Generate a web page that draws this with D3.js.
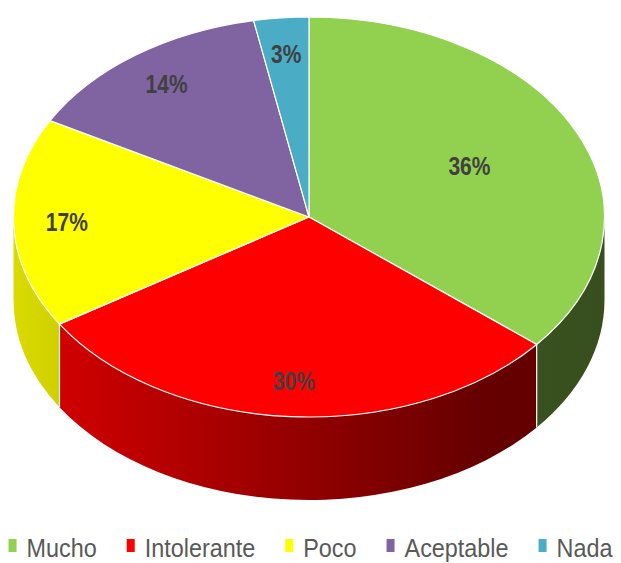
<!DOCTYPE html>
<html>
<head>
<meta charset="utf-8">
<script src="https://cdn.jsdelivr.net/npm/d3@7"></script>
<style>
  html, body { margin: 0; padding: 0; background: #ffffff; }
  svg { display: block; }
</style>
</head>
<body>
<svg id="chart" width="621" height="563"></svg>
<script>
// ---- data ----
const categories = ["Mucho", "Intolerante", "Poco", "Aceptable", "Nada"];
const values = [36, 30, 17, 14, 3];
const labels = ["36%", "30%", "17%", "14%", "3%"];
const colors = ["#92d050", "#ff0000", "#ffff00", "#8064a2", "#4bacc6"];

// ---- geometry ----
const W = 621, H = 563;
const cx = 309, cy = 217, rx = 295.5, ry = 200, depth = 83;

const svg = d3.select("#chart");
const defs = svg.append("defs");

const pie = d3.pie().sort(null).value(d => d)(values);

const pt = (a, dy = 0) => [cx + rx * Math.sin(a), cy - ry * Math.cos(a) + dy];

// shading factor across the side (left bright -> right dark)
const shade = d3.scaleLinear()
  .domain([cx - rx, 480, cx + rx])
  .range([0.86, 0.40, 0.38])
  .clamp(true);

pie.forEach((d, i) => {
  const base = d3.rgb(colors[i]);
  const g = defs.append("linearGradient")
    .attr("id", "side" + i)
    .attr("gradientUnits", "userSpaceOnUse")
    .attr("x1", cx - rx).attr("x2", cx + rx)
    .attr("y1", 0).attr("y2", 0);
  const xs = [cx - rx, 480, cx + rx];
  xs.forEach(x => {
    const f = shade(x);
    g.append("stop")
      .attr("offset", (x - (cx - rx)) / (2 * rx))
      .attr("stop-color", d3.rgb(base.r * f, base.g * f, base.b * f).formatHex());
  });
});

// ---- sides (front visible half: angles between PI/2 and 3PI/2) ----
const sideG = svg.append("g");
const lo = Math.PI / 2, hi = 3 * Math.PI / 2;
pie.forEach((d, i) => {
  const b0 = Math.max(d.startAngle, lo), b1 = Math.min(d.endAngle, hi);
  if (b1 <= b0) return;
  const p0 = pt(b0), p1 = pt(b1), q1 = pt(b1, depth), q0 = pt(b0, depth);
  const path = `M${p0}A${rx},${ry} 0 0 1 ${p1}L${q1}A${rx},${ry} 0 0 0 ${q0}Z`;
  sideG.append("path")
    .attr("d", path)
    .attr("fill", `url(#side${i})`);
});
// white edges at the slice boundaries on the side
pie.forEach(d => {
  const a = d.startAngle;
  if (a > lo && a < hi) {
    const p = pt(a), q = pt(a, depth);
    sideG.append("line")
      .attr("x1", p[0]).attr("y1", p[1])
      .attr("x2", q[0]).attr("y2", q[1])
      .attr("stroke", "#ffffff").attr("stroke-width", 1.2);
  }
});

// ---- top faces ----
const topG = svg.append("g");
pie.forEach((d, i) => {
  const p0 = pt(d.startAngle), p1 = pt(d.endAngle);
  const large = (d.endAngle - d.startAngle) > Math.PI ? 1 : 0;
  topG.append("path")
    .attr("d", `M${cx},${cy}L${p0}A${rx},${ry} 0 ${large} 1 ${p1}Z`)
    .attr("fill", colors[i])
    .attr("stroke", "#ffffff")
    .attr("stroke-width", 1.2)
    .attr("stroke-linejoin", "round");
});

// ---- data labels ----
const labG = svg.append("g");
pie.forEach((d, i) => {
  const mid = (d.startAngle + d.endAngle) / 2;
  const share = (d.endAngle - d.startAngle) / (2 * Math.PI);
  const k = share > 0.35 ? 0.6 : 0.82; // best-fit placement
  const p = [cx + rx * k * Math.sin(mid), cy - ry * k * Math.cos(mid)];
  labG.append("text")
    .attr("transform", `translate(${p[0]},${p[1] + 9}) scale(0.84,1)`)
    .attr("text-anchor", "middle")
    .attr("font-family", "'Liberation Sans', Arial, sans-serif")
    .attr("font-weight", "bold")
    .attr("font-size", 25)
    .attr("fill", "#404040")
    .text(labels[i]);
});

// ---- legend ----
const legG = svg.append("g");
const sx = 0.9;
const items = categories.map((c, i) => {
  const g = legG.append("g");
  g.append("rect").attr("x", 0).attr("y", -18).attr("width", 8).attr("height", 13).attr("fill", colors[i]);
  const t = g.append("text")
    .attr("transform", `translate(18,0) scale(${sx},1)`)
    .attr("font-family", "'Liberation Sans', Arial, sans-serif")
    .attr("font-size", 26)
    .attr("fill", "#595959")
    .text(c);
  return { g, w: 18 + sx * t.node().getComputedTextLength() };
});
const gap = 30;
const total = d3.sum(items, d => d.w) + gap * (items.length - 1);
let x = (W - total) / 2;
items.forEach(it => {
  it.g.attr("transform", `translate(${x},557)`);
  x += it.w + gap;
});
</script>
</body>
</html>
